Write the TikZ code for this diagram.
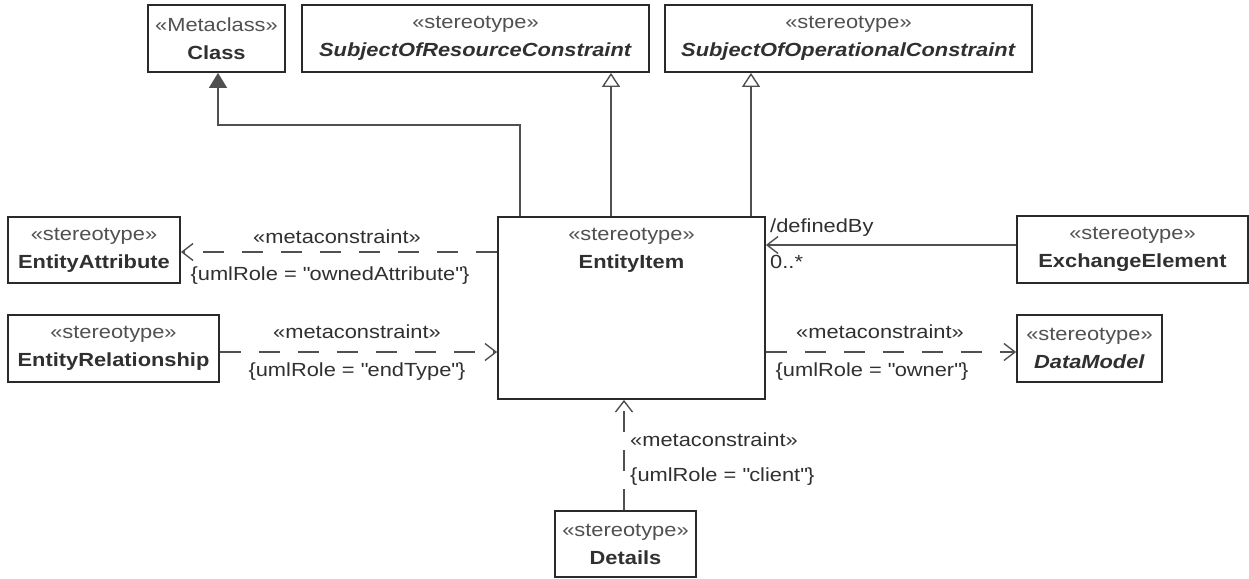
\documentclass[tikz,border=0pt]{standalone}
\usepackage{fontspec}
\setmainfont[FakeStretch=1.15]{Liberation Sans}
\usetikzlibrary{arrows.meta}
\definecolor{boxline}{HTML}{2A2A2A}
\definecolor{conn}{HTML}{505050}
\definecolor{txt}{HTML}{303030}
\definecolor{stereo}{HTML}{505050}
\tikzset{
  umlbox/.style={draw=boxline, line width=1.8pt, fill=white, align=center, inner sep=0pt, text=txt},
  conline/.style={draw=conn, line width=1.4pt},
  dashline/.style={conline, dash pattern=on 21pt off 18pt},
  gentip/.style={-{Triangle[open, width=18pt, length=14pt, fill=white]}},
  solidtip/.style={-{Triangle[width=18pt, length=15pt]}},
  barbtip/.style={-{Straight Barb[length=11pt, width=17pt]}},
  lbl/.style={text=txt, inner sep=0pt}
}
\newcommand{\st}[1]{\textcolor{stereo}{«#1»}}
\newcommand{\qq}{\textquotedbl}
\begin{document}
\begin{tikzpicture}[x=1pt, y=-1pt, font=\fontsize{19}{28}\selectfont]
\useasboundingbox (0,0) rectangle (1249,578);
% boxes
\node[umlbox, minimum width=137pt, minimum height=67pt] (cls) at (216.5,38.5) {\st{Metaclass}\\\textbf{Class}};
\node[umlbox, minimum width=347pt, minimum height=67pt] (sorc) at (475.5,38.5) {\st{stereotype}\\\textbf{\textit{SubjectOfResourceConstraint}}};
\node[umlbox, minimum width=367pt, minimum height=67pt] (sopc) at (848.5,38.5) {\st{stereotype}\\\textbf{\textit{SubjectOfOperationalConstraint}}};
\node[umlbox, minimum width=267pt, minimum height=182pt] (ei) at (631.5,308) {};
\node[lbl, align=center] (eit) at (631.5,250) {\st{stereotype}\\\textbf{EntityItem}};
\node[umlbox, minimum width=172pt, minimum height=66pt] (ea) at (94,250) {\st{stereotype}\\\textbf{EntityAttribute}};
\node[umlbox, minimum width=211pt, minimum height=67pt] (er) at (113.5,348.5) {\st{stereotype}\\\textbf{EntityRelationship}};
\node[umlbox, minimum width=231pt, minimum height=67pt] (ee) at (1132.5,249.5) {\st{stereotype}\\\textbf{ExchangeElement}};
\node[umlbox, minimum width=145pt, minimum height=67pt] (dm) at (1089.5,348.5) {\st{stereotype}\\\textbf{\textit{DataModel}}};
\node[umlbox, minimum width=141pt, minimum height=66pt] (det) at (625.5,544) {\st{stereotype}\\\textbf{Details}};
% anchor points
\coordinate (ei-c) at ([xshift=23pt]ei.north west);
\coordinate (ei-r) at ([xshift=-20.5pt]ei.north);
\coordinate (ei-o) at ([xshift=119.5pt]ei.north);
\coordinate (ee-a) at ([yshift=4.5pt]ee.west);
\coordinate (ea-a) at ([yshift=-2pt]ea.east);
\coordinate (er-a) at ([yshift=-3.5pt]er.east);
\coordinate (dm-a) at ([yshift=-3.5pt]dm.west);
% generalizations
\draw[conline, solidtip] (ei-c) -- ++(0,-91) -| ([xshift=1.5pt]cls.south);
\draw[conline, gentip] (ei-r) -- (ei-r |- sorc.south);
\draw[conline, gentip] (ei-o) -- (ei-o |- sopc.south);
% association
\draw[conline, barbtip] (ee-a) -- (ee-a -| ei.east);
\node[lbl, anchor=west] (defby) at (770,228) {/definedBy};
\node[lbl, anchor=west] (mult) at (770,262) {0..*};
% metaconstraints
\draw[dashline, barbtip] (ea-a -| ei.west) -- (ea-a);
\node[lbl] (m1) at (337,237) {«metaconstraint»};
\node[lbl] (r1) at (330,276) {\{umlRole = \qq ownedAttribute\qq\}};
\draw[dashline, barbtip] (er-a) -- (er-a -| ei.west);
\node[lbl] (m2) at (357,332) {«metaconstraint»};
\node[lbl] (r2) at (357,372) {\{umlRole = \qq endType\qq\}};
\draw[dashline, barbtip] (dm-a -| ei.east) -- (dm-a);
\node[lbl] (m3) at (880,332) {«metaconstraint»};
\node[lbl] (r3) at (872,372) {\{umlRole = \qq owner\qq\}};
\draw[dashline, barbtip] ([xshift=-1.5pt]det.north) -- ([xshift=-1.5pt]det.north |- ei.south);
\node[lbl, anchor=west] (m4) at (630,440) {«metaconstraint»};
\node[lbl, anchor=west] (r4) at (630,477) {\{umlRole = \qq client\qq\}};
\end{tikzpicture}
\end{document}
